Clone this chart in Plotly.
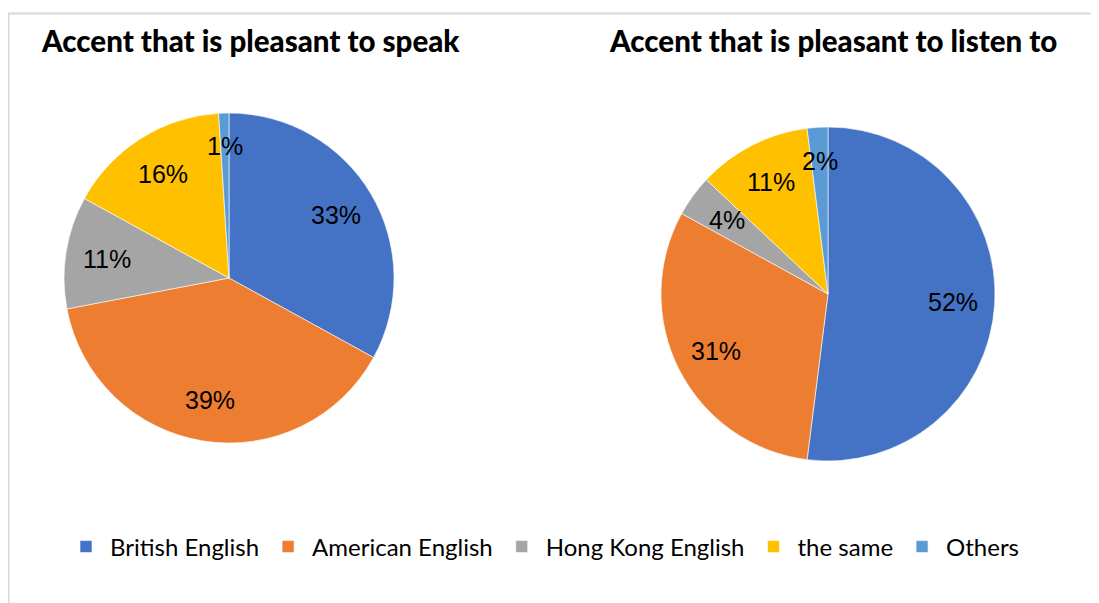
import math
import plotly.graph_objects as go

categories = ["British English", "American English", "Hong Kong English", "the same", "Others"]
speak_values = [33, 39, 11, 16, 1]
listen_values = [52, 31, 4, 11, 2]
titles = ["Accent that is pleasant to speak", "Accent that is pleasant to listen to"]
colors = ["#4472C4", "#ED7D31", "#A5A5A5", "#FFC000", "#5B9BD5"]

# figure size (page has an 8px body margin)
OFF = 8
W, H = 1099 - OFF, 603 - OFF


def px(x):
    return (x - OFF) / W


def py(y):
    return 1 - (y - OFF) / H


def dom(cx, cy, r):
    return dict(x=[px(cx - r), px(cx + r)], y=[py(cy + r), py(cy - r)])


pies = [
    (speak_values, (229, 278, 165), titles[0], 39),
    (listen_values, (828, 294, 167), titles[1], 607),
]

fig = go.Figure()
for i, (vals, (cx, cy, r), title, tx) in enumerate(pies):
    fig.add_trace(go.Pie(
        labels=categories, values=vals, sort=False, direction="clockwise", rotation=0,
        marker=dict(colors=colors, line=dict(color="white", width=0.6)),
        textinfo="none",
        domain=dom(cx, cy, r), showlegend=(i == 0), hoverinfo="label+percent",
    ))
    # data labels placed along each slice bisector
    total = sum(vals)
    cum = 0
    for v in vals:
        theta = 2 * math.pi * (cum + v / 2) / total
        cum += v
        k = 0.75 if v >= 3 else 0.8
        lx = cx + k * r * math.sin(theta)
        ly = cy - k * r * math.cos(theta)
        fig.add_annotation(text=f"{v}%", x=px(lx), y=py(ly), xref="paper", yref="paper",
                           xanchor="center", yanchor="middle", showarrow=False,
                           font=dict(family="Liberation Sans, Arial", size=25, color="black"))
    fig.add_annotation(text=title, x=px(tx), y=py(40), xref="paper", yref="paper",
                       xanchor="left", yanchor="middle", showarrow=False,
                       font=dict(family="Lato", size=29.5, weight=900, color="black"))

fig.add_shape(type="line", xref="paper", yref="paper", x0=px(8), x1=1.0, y0=py(13.5), y1=py(13.5),
              line=dict(color="#D9D9D9", width=2))
fig.add_shape(type="line", xref="paper", yref="paper", x0=px(8.5), x1=px(8.5), y0=0, y1=py(13.5),
              line=dict(color="#D9D9D9", width=2))

fig.update_layout(
    width=W, height=H, margin=dict(l=0, r=0, t=0, b=0),
    paper_bgcolor="white", plot_bgcolor="white",
    legend=dict(orientation="h", x=px(62), y=py(547), xanchor="left", yanchor="middle",
                itemwidth=38,
                font=dict(family="Lato", size=24, color="black"), itemclick=False),
)

fig.write_html("out.html")
